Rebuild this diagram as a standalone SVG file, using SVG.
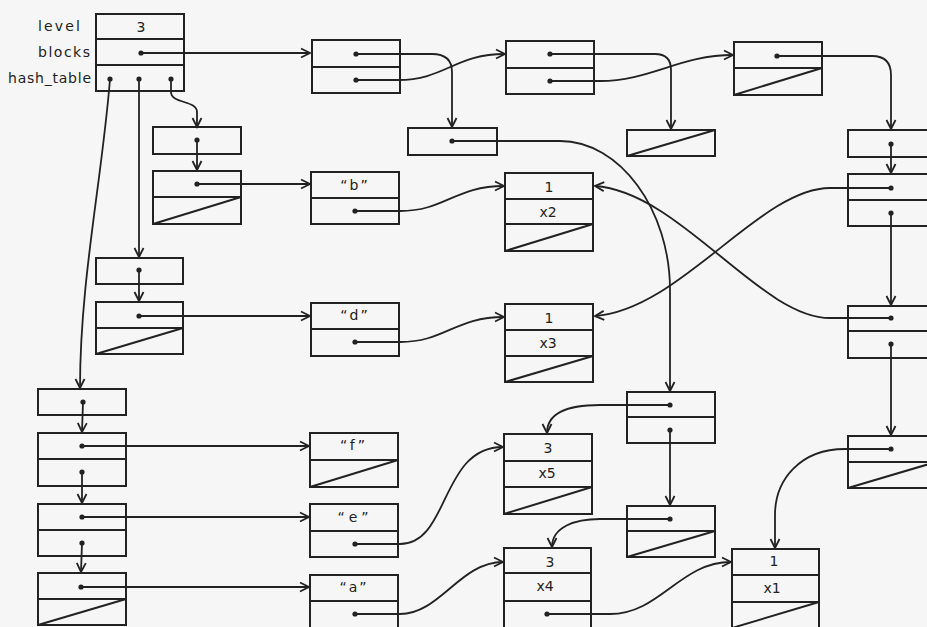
<svg xmlns="http://www.w3.org/2000/svg" width="927" height="627" viewBox="0 0 927 627">
<defs>
<style>
.bx{fill:none;stroke:#222;stroke-width:2}
.ln{stroke:#222;stroke-width:2;fill:none}
.c{fill:none;stroke:#222;stroke-width:1.8;marker-end:url(#ah)}
.c0{fill:none;stroke:#222;stroke-width:1.8}
.d{fill:#222}
.t{font-family:"DejaVu Sans","Liberation Sans",sans-serif;font-size:14px;fill:#222;text-anchor:middle}
.lb{font-family:"DejaVu Sans","Liberation Sans",sans-serif;font-size:14px;fill:#222}
</style>
<marker id="ah" viewBox="-10 -6 12 12" refX="0" refY="0" markerWidth="12" markerHeight="12" markerUnits="userSpaceOnUse" orient="auto"><path d="M-9,-4.5 L0,0 L-9,4.5" fill="none" stroke="#222" stroke-width="1.8"/></marker>
</defs>
<rect width="927" height="627" fill="#f6f6f6"/>

<g id="connectors">
<path class="c" d="M141,53 L310,53"/>
<path class="c" d="M356,54 L432,54 Q452,54 452,72 L452,127"/>
<path class="c" d="M356,80 L398,80 C445,80 455,54 505,54"/>
<path class="c" d="M550,54 L655,54 Q671,54 671,70 L671,129"/>
<path class="c" d="M550,81 L600,81 C650,81 680,55 733,55"/>
<path class="c" d="M777,56 L872,56 Q891,56 891,75 L891,129"/>
<path class="c" d="M452,141 L560,141 C620,141 670,210 670,290 L670,391"/>
<path class="c" d="M891,144 L891,173"/>
<path class="c" d="M891,188 L830,188 C760,188 680,310 595,316"/>
<path class="c" d="M891,318 L830,318 C760,318 680,192 595,186"/>
<path class="c" d="M891,213 L891,305"/>
<path class="c" d="M891,344 L891,435"/>
<path class="c" d="M891,449 L845,449 C800,449 775,480 775,515 L775,548"/>
<path class="c" d="M670,405 L600,405 C570,405 547,412 547,433"/>
<path class="c" d="M670,430 L670,505"/>
<path class="c" d="M670,519 L600,519 C575,519 552,527 552,547"/>
<path class="c" d="M547,614 L610,614 C660,614 680,562 731,562"/>
<path class="c" d="M355,211 L400,211 C445,211 455,186 504,186"/>
<path class="c" d="M355,342 L400,342 C445,342 455,317 504,317"/>
<path class="c" d="M355,544 L400,544 C450,544 440,447 503,447"/>
<path class="c" d="M355,614 L400,614 C440,614 460,562 503,562"/>
<path class="c" d="M171,79 L171,92 C171,104 197,100 197,112 L197,127"/>
<path class="c" d="M197,140 L197,170"/>
<path class="c" d="M197,184 L310,184"/>
<path class="c" d="M139,79 L139,257"/>
<path class="c" d="M139,270 L139,301"/>
<path class="c" d="M139,316 L310,316"/>
<path class="c" d="M110,79 C102,180 80,280 80,388"/>
<path class="c" d="M83,402 L82,432"/>
<path class="c" d="M82,446 L309,446"/>
<path class="c" d="M82,472 L82,503"/>
<path class="c" d="M82,517 L309,517"/>
<path class="c" d="M82,543 L81,572"/>
<path class="c" d="M81,587 L309,587"/>
</g>

<g id="root">
<text class="lb" x="38" y="31" textLength="42" lengthAdjust="spacing">level</text>
<text class="lb" x="38" y="57" textLength="52" lengthAdjust="spacing">blocks</text>
<text class="lb" x="8" y="83" textLength="83" lengthAdjust="spacing">hash_table</text>
<rect class="bx" x="96" y="14" width="88" height="77"/>
<path class="ln" d="M96,39 H184 M96,65 H184"/>
<text class="t" x="141" y="32" font-size="15">3</text>
<circle class="d" cx="141" cy="53" r="2.6"/>
<circle class="d" cx="110" cy="79" r="2.6"/>
<circle class="d" cx="139" cy="79" r="2.6"/>
<circle class="d" cx="171" cy="79" r="2.6"/>
</g>

<g id="blk1"><rect class="bx" x="312" y="40" width="88" height="53"/><path class="ln" d="M312,67 H400"/><circle class="d" cx="356" cy="54" r="2.6"/><circle class="d" cx="356" cy="80" r="2.6"/></g>
<g id="blk2"><rect class="bx" x="506" y="41" width="88" height="53"/><path class="ln" d="M506,68 H594"/><circle class="d" cx="550" cy="54" r="2.6"/><circle class="d" cx="550" cy="81" r="2.6"/></g>
<g id="blk3"><rect class="bx" x="734" y="42" width="88" height="53"/><path class="ln" d="M734,68 H822 M734,95 L822,68"/><circle class="d" cx="777" cy="56" r="2.6"/></g>
<g id="hb1"><rect class="bx" x="408" y="128" width="89" height="27"/><circle class="d" cx="452" cy="141" r="2.6"/></g>
<g id="hb2"><rect class="bx" x="627" y="130" width="88" height="26"/><path class="ln" d="M627,156 L715,130"/></g>

<g id="L1"><rect class="bx" x="153" y="127" width="88" height="27"/><circle class="d" cx="197" cy="140" r="2.6"/></g>
<g id="L2"><rect class="bx" x="153" y="171" width="88" height="53"/><path class="ln" d="M153,197 H241 M153,224 L241,197"/><circle class="d" cx="197" cy="184" r="2.6"/></g>
<g id="L3"><rect class="bx" x="96" y="258" width="87" height="26"/><circle class="d" cx="139" cy="270" r="2.6"/></g>
<g id="L4"><rect class="bx" x="96" y="302" width="87" height="52"/><path class="ln" d="M96,328 H183 M96,354 L183,328"/><circle class="d" cx="139" cy="316" r="2.6"/></g>
<g id="L5"><rect class="bx" x="38" y="389" width="88" height="26"/><circle class="d" cx="83" cy="402" r="2.6"/></g>
<g id="L6"><rect class="bx" x="38" y="433" width="88" height="53"/><path class="ln" d="M38,459 H126"/><circle class="d" cx="82" cy="446" r="2.6"/><circle class="d" cx="82" cy="472" r="2.6"/></g>
<g id="L7"><rect class="bx" x="38" y="504" width="88" height="52"/><path class="ln" d="M38,530 H126"/><circle class="d" cx="82" cy="517" r="2.6"/><circle class="d" cx="82" cy="543" r="2.6"/></g>
<g id="L8"><rect class="bx" x="38" y="573" width="88" height="52"/><path class="ln" d="M38,599 H126 M38,625 L126,599"/><circle class="d" cx="81" cy="587" r="2.6"/></g>

<g id="sb"><rect class="bx" x="311" y="172" width="88" height="52"/><path class="ln" d="M311,198 H399"/><text class="t" x="355" y="190" font-size="15" letter-spacing="2">“b”</text><circle class="d" cx="355" cy="211" r="2.6"/></g>
<g id="sd"><rect class="bx" x="311" y="303" width="88" height="53"/><path class="ln" d="M311,329 H399"/><text class="t" x="355" y="320" font-size="15" letter-spacing="2">“d”</text><circle class="d" cx="355" cy="342" r="2.6"/></g>
<g id="sf"><rect class="bx" x="310" y="433" width="88" height="54"/><path class="ln" d="M310,460 H398 M310,487 L398,460"/><text class="t" x="354" y="450" font-size="15" letter-spacing="3">“f”</text></g>
<g id="se"><rect class="bx" x="310" y="504" width="88" height="53"/><path class="ln" d="M310,531 H398"/><text class="t" x="355" y="522" font-size="15" letter-spacing="4">“e”</text><circle class="d" cx="355" cy="544" r="2.6"/></g>
<g id="sa"><rect class="bx" x="310" y="575" width="88" height="60"/><path class="ln" d="M310,601 H398"/><text class="t" x="354" y="592" font-size="15" letter-spacing="2">“a”</text><circle class="d" cx="355" cy="614" r="2.6"/></g>

<g id="ex2"><rect class="bx" x="505" y="173" width="88" height="78"/><path class="ln" d="M505,199 H593 M505,224 H593 M505,251 L593,224"/><text class="t" x="549" y="192" font-size="15">1</text><text class="t" x="548" y="217" font-size="15">x2</text></g>
<g id="ex3"><rect class="bx" x="505" y="304" width="88" height="78"/><path class="ln" d="M505,330 H593 M505,356 H593 M505,382 L593,356"/><text class="t" x="549" y="323" font-size="15">1</text><text class="t" x="548" y="348" font-size="15">x3</text></g>
<g id="ex5"><rect class="bx" x="504" y="434" width="88" height="80"/><path class="ln" d="M504,461 H592 M504,487 H592 M504,514 L592,487"/><text class="t" x="548" y="453" font-size="15">3</text><text class="t" x="547" y="478" font-size="15">x5</text></g>
<g id="ex4"><rect class="bx" x="504" y="548" width="87" height="90"/><path class="ln" d="M504,573 H591 M504,601 H591"/><text class="t" x="550" y="567" font-size="15">3</text><text class="t" x="545" y="591" font-size="15">x4</text><circle class="d" cx="547" cy="614" r="2.6"/></g>
<g id="ex1"><rect class="bx" x="732" y="549" width="87" height="90"/><path class="ln" d="M732,575 H819 M732,602 H819 M732,628 L819,602"/><text class="t" x="774" y="566" font-size="15">1</text><text class="t" x="772" y="593" font-size="15">x1</text></g>

<g id="R1"><rect class="bx" x="848" y="130" width="88" height="27"/><circle class="d" cx="891" cy="144" r="2.6"/></g>
<g id="R2"><rect class="bx" x="848" y="174" width="88" height="52"/><path class="ln" d="M848,200 H936"/><circle class="d" cx="891" cy="188" r="2.6"/><circle class="d" cx="891" cy="213" r="2.6"/></g>
<g id="R3"><rect class="bx" x="848" y="306" width="88" height="52"/><path class="ln" d="M848,331 H936"/><circle class="d" cx="891" cy="318" r="2.6"/><circle class="d" cx="891" cy="344" r="2.6"/></g>
<g id="R4"><rect class="bx" x="848" y="436" width="88" height="52"/><path class="ln" d="M848,462 H936 M848,488 L936,462"/><circle class="d" cx="891" cy="449" r="2.6"/></g>

<g id="M1"><rect class="bx" x="627" y="392" width="88" height="51"/><path class="ln" d="M627,417 H715"/><circle class="d" cx="670" cy="405" r="2.6"/><circle class="d" cx="670" cy="430" r="2.6"/></g>
<g id="M2"><rect class="bx" x="627" y="506" width="88" height="51"/><path class="ln" d="M627,531 H715 M627,557 L715,531"/><circle class="d" cx="670" cy="519" r="2.6"/></g>
</svg>
